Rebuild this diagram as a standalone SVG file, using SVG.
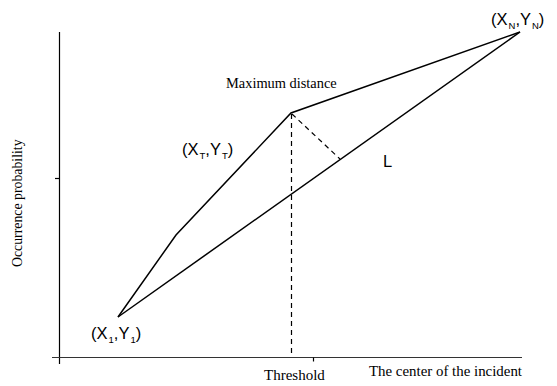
<svg xmlns="http://www.w3.org/2000/svg" width="557" height="386" viewBox="0 0 557 386">
<style>
.ax{stroke:#000;stroke-width:1.2;fill:none}
.hx{stroke:#333;stroke-width:1.2;fill:none}
.ln{stroke:#000;stroke-width:1.5;fill:none;stroke-linejoin:miter}
.ds{stroke:#000;stroke-width:1.2;fill:none;stroke-dasharray:5,4}
.serif{font-family:"Liberation Serif","Times New Roman",serif;fill:#000}
.sans{font-family:"Liberation Sans",Arial,sans-serif;fill:#000;font-size:16.5px}
.sub{font-size:9.5px}
</style>
<rect width="557" height="386" fill="#fff"/>
<g id="axes">
<line class="ax" x1="59.5" y1="32" x2="59.5" y2="364"/>
<line class="ax" x1="55" y1="178.5" x2="59.5" y2="178.5"/>
<line class="hx" x1="52" y1="357.5" x2="522" y2="357.5"/>
<line class="ax" x1="313.5" y1="357.5" x2="313.5" y2="361.5"/>
</g>
<g id="connectors">
<polyline class="ln" points="118,317 176,235 291,113 520,32"/>
<line class="ln" x1="118" y1="317" x2="520" y2="32"/>
<line class="ds" x1="291.5" y1="114" x2="291.5" y2="357"/>
<line class="ds" x1="292" y1="114" x2="340" y2="159"/>
</g>
<g id="label-xn"><text class="sans" x="491" y="25">(X<tspan class="sub" dx="1" dy="4">N</tspan><tspan dy="-4">,Y</tspan><tspan class="sub" dx="1" dy="4">N</tspan><tspan dy="-4">)</tspan></text></g>
<g id="label-x1"><text class="sans" x="91" y="339">(X<tspan class="sub" dx="1" dy="4">1</tspan><tspan dy="-4">,Y</tspan><tspan class="sub" dx="1" dy="4">1</tspan><tspan dy="-4">)</tspan></text></g>
<g id="label-xt"><text class="sans" x="182" y="155">(X<tspan class="sub" dx="1" dy="4">T</tspan><tspan dy="-4">,Y</tspan><tspan class="sub" dx="1" dy="4">T</tspan><tspan dy="-4">)</tspan></text></g>
<g id="label-l"><text class="sans" x="383" y="167">L</text></g>
<g id="label-maxdist"><text class="serif" x="226" y="87.5" font-size="14.4">Maximum distance</text></g>
<g id="label-threshold"><text class="serif" x="264" y="380" font-size="15">Threshold</text></g>
<g id="label-center"><text class="serif" x="369" y="375.5" font-size="14.9">The center of the incident</text></g>
<g id="label-ylabel"><text class="serif" font-size="13.8" transform="translate(22,267) rotate(-90)">Occurrence probability</text></g>
</svg>
